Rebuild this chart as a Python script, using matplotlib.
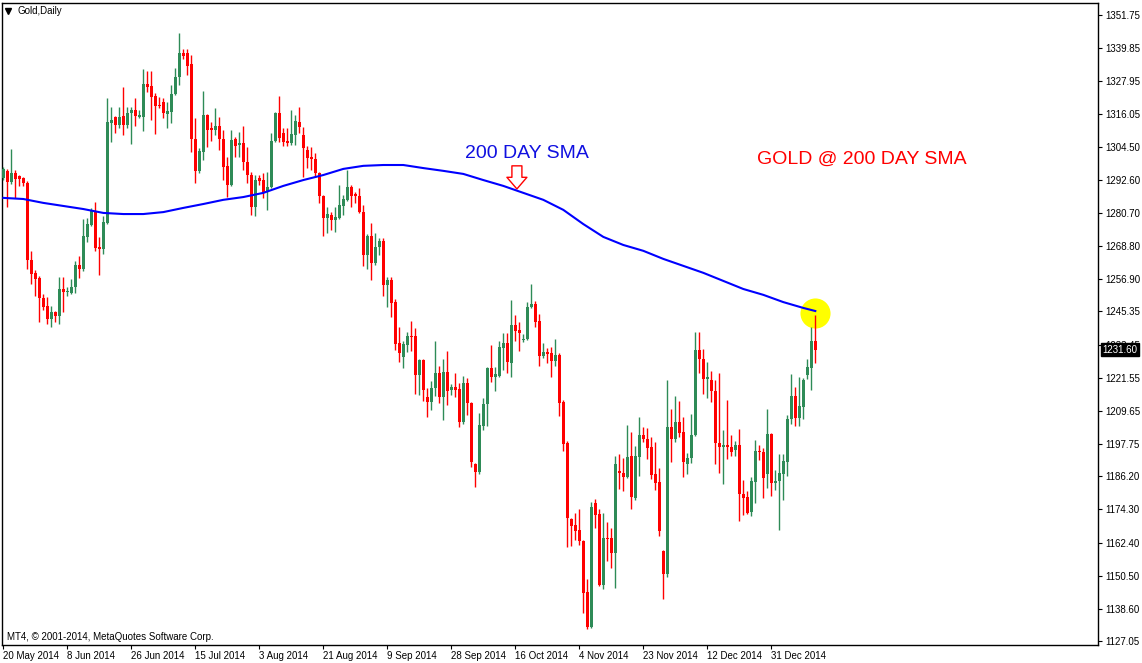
import numpy as np
import matplotlib
matplotlib.use("Agg")
import matplotlib.pyplot as plt
import matplotlib.transforms as mtransforms

plt.rcParams['font.family'] = ['Liberation Sans', 'DejaVu Sans']

# Daily OHLC, gold, 20 May 2014 -> mid Jan 2015
opens = [1293.3, 1295.8, 1291.8, 1295.0, 1294.0, 1293.3, 1291.5, 1263.8, 1259.2, 1257.4,
         1250.2, 1247.3, 1242.6, 1245.2, 1243.7, 1253.4, 1252.3, 1252.0, 1254.1, 1262.0,
         1260.6, 1272.1, 1276.4, 1281.4, 1268.5, 1267.8, 1277.1, 1313.0, 1315.1, 1312.3,
         1315.5, 1312.3, 1316.6, 1317.7, 1315.1, 1315.1, 1327.0, 1326.3, 1322.7, 1319.5,
         1320.5, 1316.2, 1316.9, 1323.4, 1329.5, 1338.1, 1338.1, 1334.2, 1307.2, 1295.8,
         1302.6, 1315.9, 1311.2, 1310.5, 1311.9, 1307.2, 1297.6, 1290.7, 1307.2, 1305.1,
         1305.8, 1299.0, 1294.3, 1282.8, 1293.3, 1292.5, 1288.2, 1290.0, 1306.5, 1316.6,
         1309.4, 1306.5, 1305.8, 1308.7, 1313.3, 1308.7, 1303.3, 1300.8, 1300.1, 1295.0,
         1286.8, 1278.9, 1280.0, 1278.2, 1278.9, 1283.2, 1285.4, 1290.0, 1287.5, 1286.8,
         1281.0, 1265.6, 1272.4, 1262.7, 1268.5, 1270.6, 1254.8, 1256.6, 1248.7, 1234.0,
         1229.0, 1233.3, 1236.5, 1236.5, 1222.6, 1227.9, 1214.7, 1212.9, 1217.9, 1223.3,
         1214.7, 1223.6, 1217.2, 1218.2, 1217.5, 1205.7, 1219.7, 1212.5, 1190.6, 1187.7,
         1204.2, 1212.1, 1225.1, 1221.8, 1222.2, 1232.2, 1234.0, 1226.9, 1240.5, 1238.7,
         1235.1, 1235.5, 1247.0, 1248.0, 1241.9, 1229.4, 1230.8, 1230.4, 1227.6, 1229.7,
         1212.9, 1198.1, 1170.9, 1168.7, 1166.9, 1163.0, 1144.7, 1132.1, 1176.6, 1172.7,
         1147.2, 1164.0, 1164.0, 1158.7, 1188.1, 1187.4, 1185.9, 1193.5, 1178.4, 1193.1,
         1201.0, 1199.6, 1196.7, 1187.0, 1184.1, 1159.4, 1151.1, 1203.9, 1199.6, 1205.7,
         1202.1, 1190.6, 1192.8, 1201.0, 1231.5, 1228.3, 1221.1, 1220.8, 1216.8, 1198.1,
         1196.7, 1197.4, 1196.7, 1195.6, 1197.4, 1179.8, 1178.8, 1173.4, 1184.1, 1195.3,
         1194.9, 1187.0, 1201.4, 1183.8, 1184.5, 1187.0, 1191.3, 1206.8, 1215.0, 1207.1,
         1211.1, 1222.6, 1225.1, 1234.7]
highs = [1297.2, 1296.5, 1303.7, 1296.1, 1294.3, 1293.6, 1292.2, 1267.1, 1260.2, 1258.1,
         1251.6, 1250.5, 1247.3, 1245.5, 1257.7, 1257.7, 1254.1, 1257.0, 1263.5, 1265.3,
         1278.5, 1278.9, 1282.5, 1284.6, 1272.1, 1279.6, 1322.0, 1318.7, 1315.5, 1318.7,
         1325.9, 1318.7, 1318.7, 1322.0, 1317.7, 1332.4, 1331.7, 1331.7, 1323.8, 1322.3,
         1322.0, 1320.5, 1326.6, 1332.7, 1345.3, 1339.5, 1339.5, 1337.4, 1314.8, 1304.0,
         1324.5, 1316.2, 1313.3, 1318.4, 1315.1, 1310.5, 1300.8, 1310.5, 1308.0, 1309.8,
         1311.9, 1304.4, 1295.4, 1294.3, 1294.3, 1295.0, 1295.4, 1309.4, 1316.9, 1322.7,
         1311.2, 1311.2, 1317.7, 1315.9, 1318.7, 1311.6, 1304.7, 1304.4, 1302.2, 1295.4,
         1287.2, 1282.8, 1281.0, 1282.8, 1290.7, 1287.2, 1296.1, 1290.7, 1288.2, 1289.7,
         1283.6, 1273.2, 1277.1, 1273.5, 1271.7, 1271.7, 1257.7, 1257.7, 1249.8, 1239.8,
         1234.7, 1238.0, 1241.9, 1239.4, 1228.3, 1228.3, 1217.9, 1220.4, 1234.7, 1225.8,
         1228.3, 1231.2, 1219.3, 1223.3, 1219.7, 1222.2, 1221.5, 1212.9, 1191.0, 1208.9,
         1214.3, 1225.4, 1233.3, 1225.4, 1234.7, 1237.6, 1237.6, 1249.5, 1244.1, 1241.6,
         1237.3, 1248.7, 1255.2, 1249.1, 1244.4, 1234.0, 1232.2, 1232.6, 1235.5, 1230.4,
         1213.6, 1198.9, 1171.2, 1173.0, 1174.5, 1163.3, 1149.3, 1177.0, 1178.0, 1174.5,
         1173.0, 1169.8, 1167.6, 1193.5, 1194.2, 1192.8, 1204.6, 1202.1, 1197.1, 1207.5,
         1203.9, 1203.5, 1200.3, 1198.5, 1189.2, 1159.7, 1220.8, 1210.3, 1215.0, 1213.2,
         1207.5, 1194.6, 1208.6, 1238.0, 1238.0, 1231.9, 1227.2, 1224.0, 1220.8, 1223.3,
         1202.8, 1213.6, 1201.0, 1198.9, 1203.2, 1184.9, 1180.9, 1185.9, 1199.2, 1197.4,
         1196.4, 1210.3, 1201.7, 1188.5, 1194.2, 1194.2, 1208.2, 1222.9, 1218.2, 1221.8,
         1221.5, 1228.3, 1239.8, 1244.1]
lows = [1292.5, 1282.8, 1291.1, 1286.1, 1290.4, 1290.4, 1260.6, 1255.2, 1250.9, 1241.6,
        1245.9, 1240.8, 1239.8, 1241.6, 1240.8, 1245.2, 1250.9, 1251.6, 1252.0, 1257.4,
        1259.9, 1270.3, 1276.0, 1267.1, 1258.4, 1266.0, 1276.7, 1306.2, 1309.4, 1311.2,
        1308.7, 1311.2, 1305.5, 1311.9, 1314.8, 1310.1, 1324.1, 1314.1, 1309.0, 1318.4,
        1314.8, 1311.2, 1313.0, 1323.0, 1326.6, 1336.0, 1330.2, 1302.6, 1291.5, 1295.0,
        1299.7, 1304.4, 1306.5, 1308.7, 1303.3, 1292.5, 1286.4, 1290.4, 1300.8, 1300.8,
        1296.1, 1291.5, 1280.0, 1279.6, 1290.7, 1286.1, 1281.8, 1289.7, 1306.2, 1306.2,
        1304.7, 1304.7, 1305.1, 1305.1, 1309.4, 1293.6, 1296.8, 1296.1, 1293.6, 1284.3,
        1272.4, 1273.5, 1274.6, 1273.9, 1278.5, 1280.0, 1285.0, 1282.8, 1284.3, 1280.7,
        1261.7, 1260.6, 1256.6, 1262.0, 1265.6, 1250.9, 1247.0, 1243.4, 1231.5, 1227.2,
        1225.1, 1230.8, 1231.2, 1215.7, 1215.4, 1213.2, 1207.5, 1210.0, 1215.0, 1212.5,
        1206.4, 1211.8, 1215.4, 1214.7, 1203.9, 1205.0, 1208.2, 1189.5, 1182.3, 1187.0,
        1202.8, 1204.2, 1220.0, 1216.8, 1221.8, 1224.3, 1223.3, 1221.8, 1234.7, 1231.2,
        1234.4, 1235.1, 1246.6, 1239.8, 1225.8, 1228.6, 1226.9, 1221.8, 1225.8, 1207.8,
        1195.3, 1160.8, 1161.2, 1163.3, 1161.5, 1137.1, 1131.4, 1131.7, 1167.6, 1146.8,
        1145.7, 1155.8, 1153.3, 1146.1, 1181.6, 1180.9, 1185.6, 1174.5, 1177.7, 1186.3,
        1198.5, 1192.4, 1185.2, 1181.3, 1164.8, 1142.2, 1150.1, 1191.3, 1198.5, 1200.3,
        1185.9, 1187.0, 1191.0, 1200.7, 1223.3, 1215.7, 1214.3, 1212.9, 1190.6, 1187.4,
        1183.4, 1192.4, 1193.5, 1193.5, 1170.1, 1172.3, 1172.7, 1171.9, 1176.6, 1192.0,
        1178.4, 1182.0, 1179.1, 1181.3, 1166.9, 1177.7, 1186.3, 1205.0, 1204.2, 1204.2,
        1206.8, 1221.1, 1217.2, 1226.9]
closes = [1296.5, 1291.8, 1295.0, 1292.9, 1292.9, 1291.5, 1263.8, 1258.8, 1257.0, 1250.2,
          1247.0, 1242.6, 1245.2, 1243.7, 1253.4, 1252.3, 1252.7, 1254.1, 1262.0, 1260.6,
          1272.4, 1276.7, 1281.4, 1268.1, 1267.8, 1277.5, 1313.3, 1314.1, 1312.3, 1315.1,
          1312.3, 1316.6, 1317.7, 1315.5, 1315.9, 1327.0, 1325.9, 1322.3, 1319.1, 1319.2,
          1316.6, 1317.3, 1323.4, 1329.5, 1338.1, 1337.0, 1333.4, 1307.2, 1295.8, 1302.9,
          1315.9, 1310.5, 1310.6, 1311.9, 1307.2, 1297.2, 1290.7, 1306.9, 1304.7, 1305.8,
          1299.0, 1294.3, 1282.8, 1292.5, 1292.2, 1288.2, 1290.0, 1306.5, 1316.6, 1307.6,
          1306.2, 1305.8, 1309.0, 1313.7, 1311.6, 1304.0, 1300.4, 1300.1, 1295.0, 1286.8,
          1278.9, 1280.3, 1278.2, 1279.3, 1283.6, 1285.7, 1290.0, 1286.8, 1286.8, 1281.0,
          1265.6, 1272.4, 1262.7, 1268.5, 1270.6, 1254.8, 1256.6, 1248.4, 1233.7, 1230.4,
          1233.7, 1236.5, 1236.2, 1222.6, 1227.9, 1217.2, 1212.9, 1217.9, 1223.3, 1214.7,
          1223.6, 1216.8, 1218.2, 1217.2, 1205.7, 1219.7, 1212.5, 1191.3, 1187.7, 1204.6,
          1212.1, 1225.1, 1221.8, 1222.9, 1232.6, 1234.0, 1227.2, 1240.5, 1238.3, 1237.6,
          1235.5, 1247.0, 1248.0, 1241.6, 1229.4, 1230.8, 1230.1, 1227.6, 1229.7, 1212.5,
          1197.8, 1171.2, 1168.4, 1166.6, 1163.0, 1144.3, 1132.1, 1175.2, 1172.3, 1147.2,
          1164.0, 1163.7, 1158.7, 1190.6, 1187.4, 1185.9, 1193.1, 1178.8, 1193.5, 1201.0,
          1199.6, 1196.4, 1186.7, 1183.8, 1166.6, 1151.1, 1203.9, 1199.6, 1205.7, 1201.7,
          1191.3, 1192.8, 1201.0, 1231.5, 1228.3, 1221.1, 1221.8, 1216.8, 1198.1, 1196.7,
          1197.4, 1196.7, 1194.9, 1197.4, 1179.8, 1178.4, 1173.0, 1184.5, 1195.3, 1194.9,
          1185.6, 1201.4, 1183.8, 1184.5, 1187.4, 1191.7, 1206.8, 1215.0, 1207.1, 1211.4,
          1220.8, 1225.4, 1234.7, 1231.6]

# 200 day SMA, sampled every 5 bars (plus the last bar)
sma_bars = [0, 5, 10, 15, 20, 25, 30, 35, 40, 45, 50, 55, 60, 65, 70, 75, 80, 85, 90, 95,
            100, 105, 110, 115, 120, 125, 130, 135, 140, 145, 150, 155, 160, 165, 170, 175,
            180, 185, 190, 195, 200, 203]
sma_values = [1286.1, 1285.7, 1284.3, 1283.2, 1282.1, 1280.7, 1280.3, 1280.3, 1281.0, 1282.5,
              1283.9, 1285.4, 1286.4, 1287.9, 1290.4, 1292.5, 1294.3, 1296.5, 1297.6, 1297.9,
              1297.9, 1296.8, 1295.8, 1294.7, 1292.5, 1290.4, 1287.9, 1285.4, 1281.8, 1276.7,
              1272.1, 1269.2, 1267.1, 1264.2, 1261.7, 1259.2, 1256.3, 1253.4, 1251.3, 1248.7,
              1246.6, 1245.5]

tick_bars = [0, 16, 32, 48, 64, 80, 96, 112, 128, 144, 160, 176, 192]
tick_dates = ["20 May 2014", "8 Jun 2014", "26 Jun 2014", "15 Jul 2014", "3 Aug 2014",
              "21 Aug 2014", "9 Sep 2014", "28 Sep 2014", "16 Oct 2014", "4 Nov 2014",
              "23 Nov 2014", "12 Dec 2014", "31 Dec 2014"]
price_ticks = [1351.75, 1339.85, 1327.95, 1316.05, 1304.50, 1292.60, 1280.70, 1268.80,
               1256.90, 1245.35, 1233.45, 1221.55, 1209.65, 1197.75, 1186.20, 1174.30,
               1162.40, 1150.50, 1138.60, 1127.05]

UP = "#2E8B57"
DOWN = "#FF0000"

fig = plt.figure(figsize=(11.42, 6.63), dpi=100)
ax = fig.add_axes([0.00175, 0.0272, 0.9598, 0.9683])

o = np.array(opens)
h = np.array(highs)
l = np.array(lows)
c = np.array(closes)
x = np.arange(len(o))
colors = np.where(c >= o, UP, DOWN)

# wicks + bodies
ax.vlines(x, l, h, colors=colors, linewidth=1.0, zorder=3)
body_bottom = np.minimum(o, c)
body_height = np.maximum(np.abs(c - o), 0.35)
ax.bar(x, body_height, 0.75, bottom=body_bottom, color=colors, linewidth=0, zorder=4)

# 200 day SMA
ax.plot(sma_bars, sma_values, color="#0000FF", linewidth=1.5, zorder=5)

# yellow highlight where price touches the SMA
ax.scatter([sma_bars[-1]], [sma_values[-1] - 0.8], s=470, color="#FFFF00", linewidths=0, zorder=2)

# annotations
ax.text(130.9, 1302.2, "200 DAY SMA", color="#1010E0", fontsize=14, ha="center", va="center")
ax.text(214.7, 1300.1, "GOLD @ 200 DAY SMA", color="#FF0000", fontsize=14, ha="center", va="center")
ax.annotate("", xy=(128.4, 1289.3), xytext=(128.4, 1297.6),
            arrowprops=dict(arrowstyle="simple,head_length=0.7,head_width=1.2,tail_width=0.6",
                            fc="white", ec="#FF0000", lw=1.0, mutation_scale=12, shrinkA=0, shrinkB=0))

ax.text(0.0145, 0.987, "Gold,Daily", transform=ax.transAxes, fontsize=7, ha="left", va="center")
ax.plot([0.0055], [0.987], marker="v", color="black", markersize=4, transform=ax.transAxes, clip_on=False)
ax.text(0.0045, 0.0125, "MT4, \u00a9 2001-2014, MetaQuotes Software Corp.", transform=ax.transAxes,
        fontsize=7, ha="left", va="center")

# axes, ticks
ax.set_xlim(-0.33, 273.7)
ax.set_ylim(1125.64, 1356.05)
ax.yaxis.tick_right()
ax.set_yticks(price_ticks)
ax.set_yticklabels([f"{p:.2f}" for p in price_ticks])
ax.set_xticks(tick_bars)
ax.set_xticklabels(tick_dates)
for lab in ax.get_xticklabels():
    lab.set_ha("left")
ax.tick_params(axis="both", direction="out", length=3, width=0.8, labelsize=7, pad=2)
ax.tick_params(axis="x", pad=1)
for sp in ax.spines.values():
    sp.set_linewidth(1.0)

# current price box (covers the 1233.45 label, as in MT4)
trans = mtransforms.blended_transform_factory(ax.transAxes, ax.transData)
ax.text(1.004, closes[-1], f"{closes[-1]:.2f}", transform=trans, color="white", fontsize=7,
        ha="left", va="center", zorder=10, clip_on=False,
        bbox=dict(boxstyle="square,pad=0.15", fc="black", ec="black"))

fig.savefig("out.png", dpi=100)
